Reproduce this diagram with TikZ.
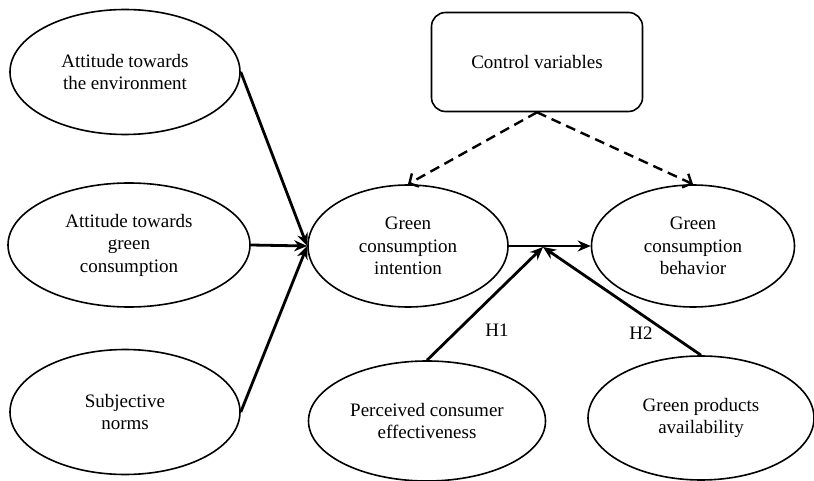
\documentclass[tikz,border=0pt]{standalone}
\usepackage{fontspec}
\setmainfont{Liberation Serif}
\usetikzlibrary{shapes.geometric,arrows.meta}
\begin{document}
\begin{tikzpicture}[x=1pt,y=-1pt,
  oval/.style={ellipse,draw,line width=1.6pt,inner sep=0pt,align=center,font=\fontsize{19}{22.5}\selectfont},
  cvbox/.style={draw,line width=1.6pt,rounded corners=14pt,inner sep=0pt,align=center,font=\fontsize{19}{22.5}\selectfont},
  arr/.style={line width=2.8pt,-{Stealth[length=13pt,width=11pt]}},
  darr/.style={line width=2.4pt,dash pattern=on 10pt off 6pt,-{Straight Barb[length=7pt,width=15pt]}},
  lbl/.style={font=\fontsize{19}{22.5}\selectfont}]
\useasboundingbox (0,0) rectangle (814,481);
\node[oval,minimum width=230pt,minimum height=125pt] (ate) at (125,72) {Attitude towards\\the environment};
\node[oval,minimum width=242pt,minimum height=124pt] (atg) at (129,245) {Attitude towards\\green\\consumption};
\node[oval,minimum width=230pt,minimum height=125pt] (sn) at (125,412) {Subjective\\norms};
\node[oval,minimum width=200pt,minimum height=122pt] (gci) at (408,246) {Green\\consumption\\intention};
\node[oval,minimum width=203pt,minimum height=122pt] (gcb) at (693,246) {Green\\consumption\\behavior};
\node[cvbox,minimum width=211pt,minimum height=99pt] (cv) at (537,62) {Control variables};
\node[oval,minimum width=237pt,minimum height=120pt] (pce) at (427,421) {Perceived consumer\\effectiveness};
\node[oval,minimum width=226pt,minimum height=124pt] (gpa) at (701,418) {Green products\\availability};
\coordinate (j) at (543,247);
\draw[arr] (ate.east) -- (gci.west);
\draw[arr] (atg.east) -- (gci.west);
\draw[arr] (sn.east) -- (gci.west);
\draw[arr] (gci.east) -- (gcb.west);
\draw[arr] (pce.north) -- (j);
\draw[arr] (gpa.north) -- (j);
\draw[darr] (cv.south) -- (gci.north);
\draw[darr] (cv.south) -- (gcb.north);
\node[lbl] (h1) at (497,330) {H1};
\node[lbl] (h2) at (641,333) {H2};
\end{tikzpicture}
\end{document}
